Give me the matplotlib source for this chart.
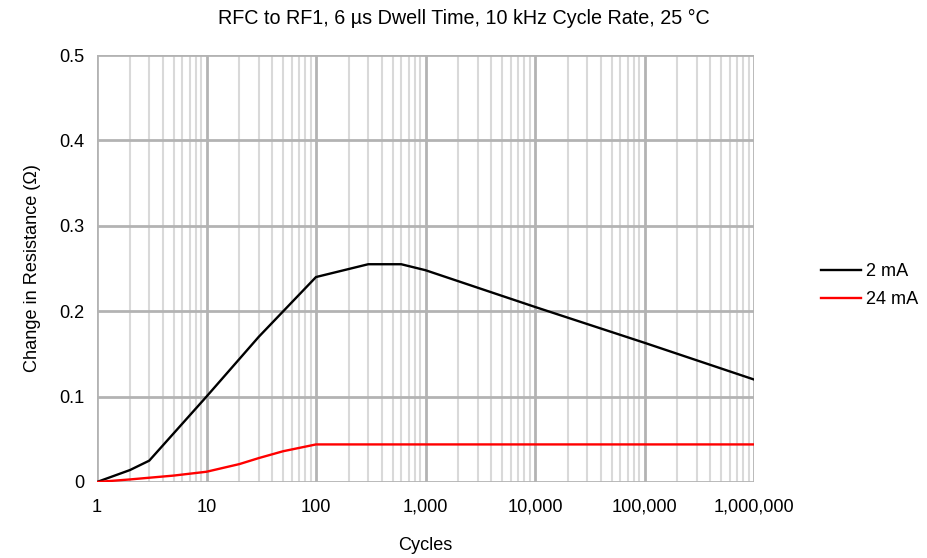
import matplotlib.pyplot as plt
from matplotlib.ticker import FixedLocator, LogLocator, NullFormatter

plt.rcParams['font.family'] = ['Liberation Sans', 'DejaVu Sans']

# Resistance change vs. cycle count
cycles_2ma = [1, 2, 3, 10, 30, 100, 300, 600, 1000, 10000, 100000, 1000000]
delta_2ma = [0, 0.014, 0.025, 0.1, 0.17, 0.24, 0.255, 0.255, 0.248, 0.205, 0.163, 0.12]

cycles_24ma = [1, 2, 3, 5, 10, 20, 30, 50, 100, 1000, 10000, 100000, 1000000]
delta_24ma = [0, 0.003, 0.005, 0.0075, 0.012, 0.021, 0.028, 0.036, 0.044,
              0.044, 0.044, 0.044, 0.044]

xticks = [1, 10, 100, 1000, 10000, 100000, 1000000]
xtick_labels = ['1', '10', '100', '1,000', '10,000', '100,000', '1,000,000']
yticks = [0, 0.1, 0.2, 0.3, 0.4, 0.5]
ytick_labels = ['0', '0.1', '0.2', '0.3', '0.4', '0.5']

fig = plt.figure(figsize=(9.27, 5.58), dpi=100)
ax = fig.add_axes([97 / 927, 1 - 482 / 558, (754 - 97) / 927, (482 - 55) / 558])

ax.plot(cycles_2ma, delta_2ma, color='#000000', lw=1.7, label='2 mA', zorder=3)
ax.plot(cycles_24ma, delta_24ma, color='#ff0000', lw=1.7, label='24 mA', zorder=3)

ax.set_xscale('log')
ax.set_xlim(1, 1e6)
ax.set_ylim(0, 0.5)
ax.xaxis.set_major_locator(FixedLocator(xticks))
ax.set_xticklabels(xtick_labels)
ax.xaxis.set_minor_locator(LogLocator(base=10, subs=range(2, 10), numticks=100))
ax.xaxis.set_minor_formatter(NullFormatter())
ax.set_yticks(yticks)
ax.set_yticklabels(ytick_labels)

ax.grid(which='major', color='#b3b3b3', lw=2.0)
ax.grid(which='minor', axis='x', color='#d9d9d9', lw=1.5)
ax.set_axisbelow(True)
for s in ax.spines.values():
    s.set_visible(False)
ax.tick_params(which='both', length=0, labelsize=13.1)
ax.tick_params(axis='x', pad=12)
ax.tick_params(axis='y', pad=9)

# title is centred on the whole figure, not on the axes
fig.suptitle('RFC to RF1, 6 µs Dwell Time, 10 kHz Cycle Rate, 25 °C',
             fontsize=14.2, x=0.5, y=0.984, va='top')
ax.set_xlabel('Cycles', fontsize=13.1, labelpad=15)
ax.set_ylabel('Change in Resistance (Ω)', fontsize=13.1, labelpad=13)

ax.legend(loc='center left', bbox_to_anchor=(1.077, 0.46), frameon=False,
          fontsize=13.1, handlelength=2.2, handletextpad=0.3, labelspacing=0.6)

fig.savefig('out.png', dpi=100, facecolor='white')
